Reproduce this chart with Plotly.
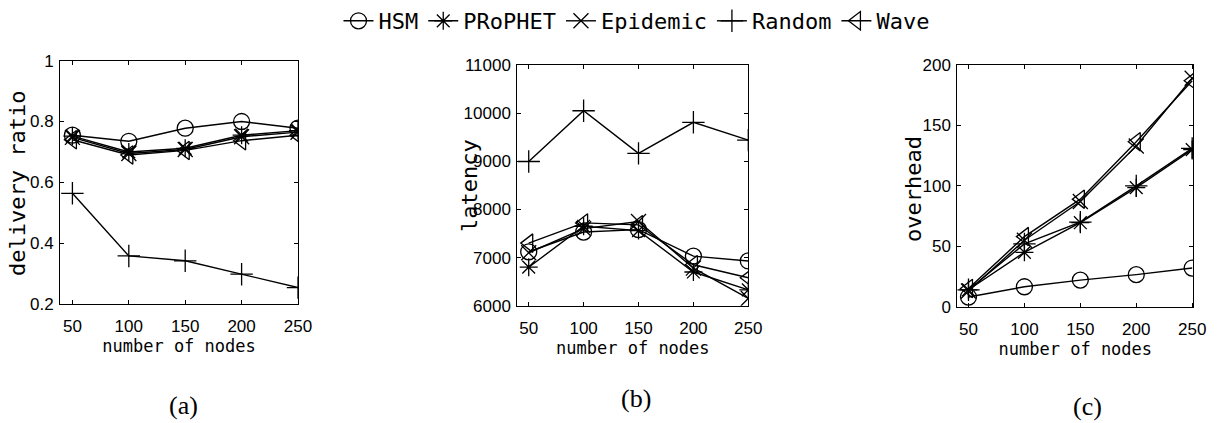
import plotly.graph_objects as go

nodes = [50, 100, 150, 200, 250]
series = ["HSM", "PRoPHET", "Epidemic", "Random", "Wave"]

# (a) delivery ratio
ratio_hsm = [0.755, 0.735, 0.778, 0.800, 0.778]
ratio_prophet = [0.752, 0.700, 0.712, 0.755, 0.770]
ratio_epidemic = [0.748, 0.695, 0.708, 0.750, 0.765]
ratio_random = [0.564, 0.358, 0.342, 0.298, 0.254]
ratio_wave = [0.740, 0.690, 0.705, 0.737, 0.755]

# (b) latency
lat_hsm = [7120, 7530, 7580, 7030, 6930]
lat_prophet = [6800, 7650, 7560, 6700, 6330]
lat_epidemic = [7100, 7600, 7750, 6780, 6150]
lat_random = [8995, 10050, 9165, 9810, 9440]
lat_wave = [7300, 7720, 7680, 6850, 6580]

# (c) overhead
ovh_hsm = [8, 16.5, 22, 26.5, 32]
ovh_prophet = [14, 45, 69.5, 98.5, 130]
ovh_epidemic = [13, 55, 87, 133, 189]
ovh_random = [14, 52, 70, 100, 131]
ovh_wave = [15, 58, 89, 136.5, 187]

ratio_ticks = [0.2, 0.4, 0.6, 0.8, 1]
ratio_labels = ["0.2", "0.4", "0.6", "0.8", "1"]
lat_ticks = [6000, 7000, 8000, 9000, 10000, 11000]
lat_labels = ["6000", "7000", "8000", "9000", "10000", "11000"]
ovh_ticks = [0, 50, 100, 150, 200]

symbols = {
    "HSM": "circle-open",
    "PRoPHET": "asterisk-open",
    "Epidemic": "x-thin-open",
    "Random": "cross-thin-open",
    "Wave": "triangle-left-open",
}
sizes = {"HSM": 16, "PRoPHET": 15, "Epidemic": 15, "Random": 16, "Wave": 16}

panels = [
    ("x", "y", [ratio_hsm, ratio_prophet, ratio_epidemic, ratio_random, ratio_wave]),
    ("x2", "y2", [lat_hsm, lat_prophet, lat_epidemic, lat_random, lat_wave]),
    ("x3", "y3", [ovh_hsm, ovh_prophet, ovh_epidemic, ovh_random, ovh_wave]),
]

fig = go.Figure()
for pi, (xa, ya, vals) in enumerate(panels):
    for name, v in zip(series, vals):
        fig.add_trace(go.Scatter(
            x=nodes, y=v, xaxis=xa, yaxis=ya, name=name,
            mode="lines+markers",
            line=dict(color="black", width=1.4),
            marker=dict(symbol=symbols[name], size=sizes[name], color="black",
                        line=dict(color="black", width=1.3)),
            showlegend=(pi == 0),
        ))

W, H = 1217, 423
T = 52  # top margin (legend lives here)
PH = H - T

def dx(a, b):
    return [a / W, b / W]
def py2paper(py):
    return (H - py) / PH
def dy(top, bottom):
    return [py2paper(bottom), py2paper(top)]

tickfont = dict(family="Liberation Sans", size=17, color="black")
xtitlefont = dict(family="DejaVu Sans Mono", size=17, color="black")
ytitlefont = dict(family="DejaVu Sans Mono", size=22, color="black")

common = dict(showline=True, linecolor="black", linewidth=1, mirror="ticks",
              ticks="inside", ticklen=4, tickcolor="black", showgrid=False,
              zeroline=False, tickfont=tickfont)

fig.update_layout(
    width=W, height=H, margin=dict(l=0, r=0, t=T, b=0, autoexpand=False),
    paper_bgcolor="white", plot_bgcolor="white",
    xaxis=dict(domain=dx(60, 298), range=[39, 250], tickvals=nodes, anchor="y",
               title=dict(text="number of nodes", font=xtitlefont, standoff=0),
               ticklabelstandoff=7, **common),
    yaxis=dict(domain=dy(60.7, 304), range=[0.2, 1], tickvals=ratio_ticks,
               ticktext=ratio_labels, anchor="x", ticklabelstandoff=2, **common),
    xaxis2=dict(domain=dx(517.3, 748.3), range=[39.6, 250], tickvals=nodes, anchor="y2",
                title=dict(text="number of nodes", font=xtitlefont, standoff=0),
                ticklabelstandoff=7, **common),
    yaxis2=dict(domain=dy(65, 305.7), range=[6000, 11000], tickvals=lat_ticks,
                ticktext=lat_labels, anchor="x2", ticklabelstandoff=2, **common),
    xaxis3=dict(domain=dx(957.3, 1193.3), range=[40, 251], tickvals=nodes, anchor="y3",
                title=dict(text="number of nodes", font=xtitlefont, standoff=0),
                ticklabelstandoff=7, **common),
    yaxis3=dict(domain=dy(65, 306.7), range=[0, 200], tickvals=ovh_ticks, anchor="x3",
                ticklabelstandoff=2, **common),
    legend=dict(orientation="h", x=0.523, xanchor="center", y=py2paper(21), yanchor="middle",
                font=dict(family="DejaVu Sans Mono", size=22, color="black"),
                itemwidth=30, tracegroupgap=0, bgcolor="rgba(0,0,0,0)"),
)

ytitles = [("delivery ratio", 17, 184), ("latency", 469, 186), ("overhead", 913, 189)]
for txt, px, py in ytitles:
    fig.add_annotation(text=txt, x=px / W, y=py2paper(py), xref="paper", yref="paper",
                       xanchor="center", yanchor="middle",
                       textangle=-90, showarrow=False, font=ytitlefont)

labels = [("(a)", 183, 405), ("(b)", 636, 398), ("(c)", 1087, 406)]
for txt, px, py in labels:
    fig.add_annotation(text=txt, x=px / W, y=py2paper(py), xref="paper", yref="paper",
                       xanchor="center", yanchor="middle",
                       showarrow=False, font=dict(family="Liberation Serif", size=26, color="black"))

fig.write_html("out.html", config={"displayModeBar": False},
               post_script="document.body.style.margin='0px';")
